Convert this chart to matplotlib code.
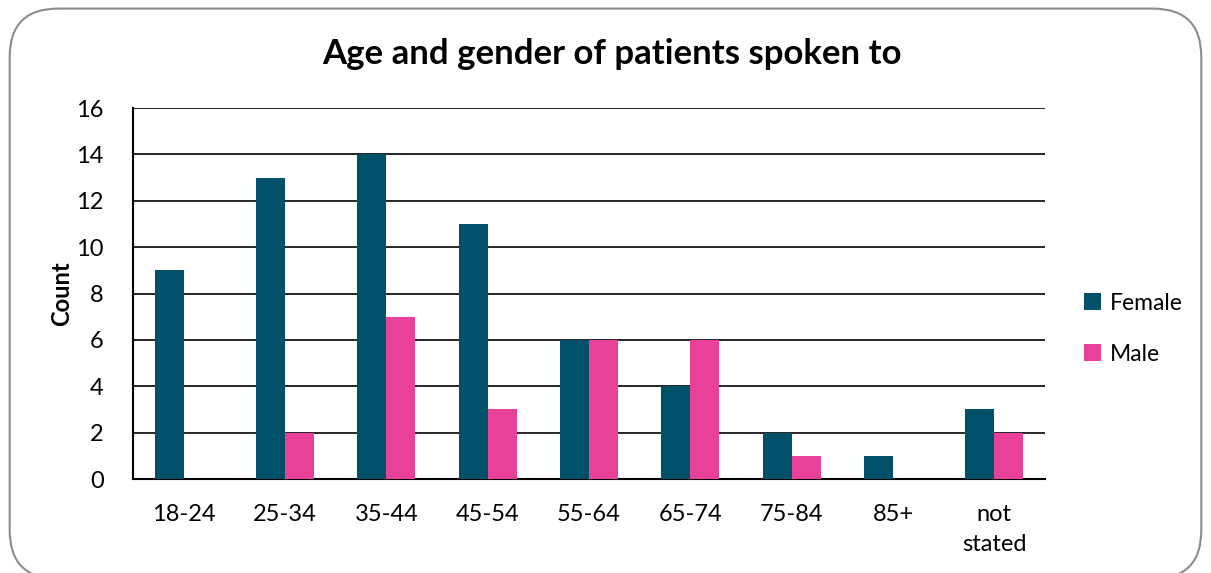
import matplotlib
matplotlib.use("Agg")
import matplotlib.pyplot as plt
import numpy as np
from matplotlib.patches import FancyBboxPatch

categories = ["18-24", "25-34", "35-44", "45-54", "55-64", "65-74", "75-84", "85+", "not\nstated"]
female = [9, 13, 14, 11, 6, 4, 2, 1, 3]
male = [0, 2, 7, 3, 6, 6, 1, 0, 2]
yticks = [0, 2, 4, 6, 8, 10, 12, 14, 16]

plt.rcParams['font.family'] = ['Lato', 'DejaVu Sans']

fig = plt.figure(figsize=(12.11, 5.73), dpi=100)
border = FancyBboxPatch((0.008, -0.01), 0.984, 0.995, boxstyle="round,pad=0,rounding_size=0.04",
                        transform=fig.transFigure, facecolor="white", edgecolor="#8c8c8c",
                        linewidth=1.5, mutation_aspect=1211/573, zorder=-10)
fig.patches.append(border)

ax = fig.add_axes([0.1098, 0.164, 0.7531, 0.6475])
x = np.arange(len(categories))
w = 0.285
ax.bar(x - w/2, female, w, color="#00506A", label="Female", zorder=3)
ax.bar(x + w/2, male, w, color="#E8419A", label="Male", zorder=3)

ax.set_xlim(-0.5, len(categories) - 0.5)
ax.set_ylim(0, 16)
ax.set_yticks(yticks)
ax.set_xticks(x)
ax.set_xticklabels(categories, fontsize=17, linespacing=1.5)
ax.tick_params(axis='y', labelsize=17, length=0, pad=21)
ax.tick_params(axis='x', length=0, pad=18)
ax.yaxis.grid(True, color="black", linewidth=1.2, zorder=0)
ax.set_axisbelow(True)
for s in ["top", "right"]:
    ax.spines[s].set_visible(False)
ax.spines["left"].set_linewidth(1.5)
ax.spines["bottom"].set_linewidth(1.5)
ax.set_ylabel("Count", fontsize=17, fontweight="bold", labelpad=2)

fig.text(0.505, 0.905, "Age and gender of patients spoken to", ha="center", va="center",
         fontsize=25, fontweight="bold")

ax.legend(loc="center left", bbox_to_anchor=(1.02, 0.405), frameon=False, fontsize=16.5,
          handlelength=0.75, handleheight=0.75, handletextpad=0.4, labelspacing=1.3)

fig.savefig("out.png", dpi=100)
